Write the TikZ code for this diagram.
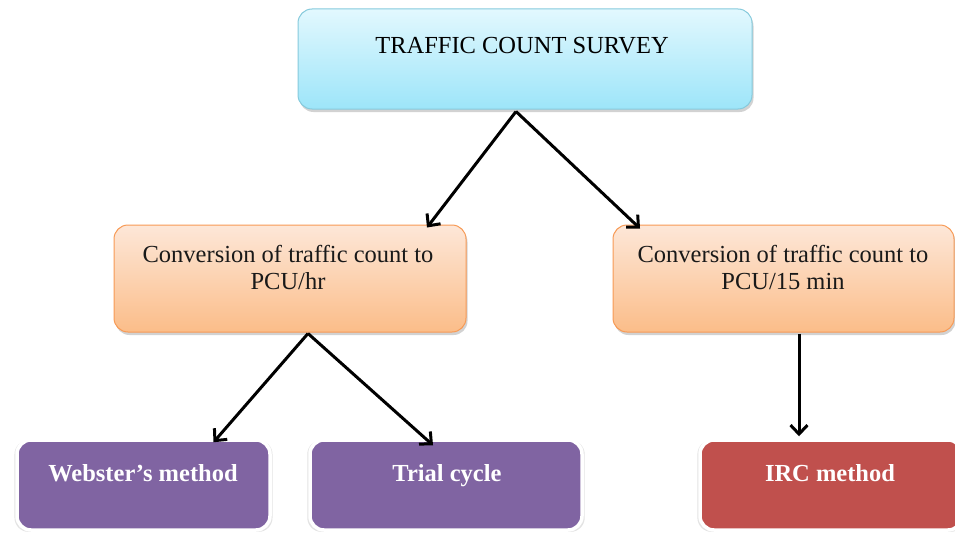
\documentclass[tikz,border=0pt]{standalone}
\usepackage{fontspec}
\setmainfont{Liberation Serif}
\usetikzlibrary{shadows,arrows.meta,calc}
\definecolor{cyantop}{HTML}{E2F8FE}
\definecolor{cyanbot}{HTML}{9DE5F9}
\definecolor{cyanedge}{HTML}{86CADC}
\definecolor{orangetop}{HTML}{FDE7D8}
\definecolor{orangebot}{HTML}{FBBD89}
\definecolor{orangeedge}{HTML}{F79A55}
\definecolor{purplefill}{HTML}{8064A2}
\definecolor{redfill}{HTML}{C0504D}
\begin{document}
\begin{tikzpicture}[x=1pt,y=-1pt,
  box/.style={rectangle, rounded corners=14pt, inner sep=0pt},
  softshadow/.style={drop shadow={shadow xshift=1.5pt, shadow yshift=-3pt, opacity=0.25, fill=black!70}},
  glowshadow/.style={drop shadow={shadow xshift=0pt, shadow yshift=-1pt, shadow scale=1.02, opacity=0.18, fill=black!60}},
  cyanbox/.style={box, draw=cyanedge, line width=1pt, top color=cyantop, bottom color=cyanbot, softshadow},
  orangebox/.style={box, draw=orangeedge, line width=1pt, top color=orangetop, bottom color=orangebot, softshadow},
  purplebox/.style={box, draw=white, line width=3.5pt, fill=purplefill, glowshadow},
  redbox/.style={box, draw=white, line width=3.5pt, fill=redfill, glowshadow},
  toptxt/.style={font=\fontsize{24.5}{28}\selectfont, text=black, anchor=base, inner sep=0pt},
  midtxt/.style={font=\fontsize{24.5}{27}\selectfont, align=center, text=black!90},
  bottxt/.style={font=\fontsize{24.5}{28}\selectfont\bfseries, text=white, anchor=base, inner sep=0pt},
  arr/.style={line width=3pt, -{Straight Barb[length=9pt,width=17pt]}}
]
\useasboundingbox (0,0) rectangle (955,535);

% boxes
\node[cyanbox, minimum width=454pt, minimum height=100pt] (top) at (525,59) {};
\node[orangebox, minimum width=352pt, minimum height=107pt] (ml) at (290,278.5) {};
\node[orangebox, minimum width=341pt, minimum height=107pt] (mr) at (783.5,278.5) {};
\node[purplebox, minimum width=253pt, minimum height=90pt] (web) at (143.5,485) {};
\node[purplebox, minimum width=272pt, minimum height=90pt] (trial) at (446,485) {};
\node[redbox, minimum width=262pt, minimum height=90pt] (irc) at (831,485) {};

% texts
\node[toptxt] (toptext) at (522,53) {TRAFFIC COUNT SURVEY};
\node[midtxt] (mltext) at (288,267) {Conversion of traffic count to\\PCU/hr};
\node[midtxt] (mrtext) at (783,267) {Conversion of traffic count to\\PCU/15 min};
\node[bottxt] (webtext) at (143,481) {Webster’s method};
\node[bottxt] (trialtext) at (447,481) {Trial cycle};
\node[bottxt] (irctext) at (830,481) {IRC method};

% connector points
\coordinate (topout) at ($(top.south)+(-9,2)$);
\coordinate (mlin) at ($(ml.north)+(137,3)$);
\coordinate (mrin) at ($(mr.north)+(-143.5,4)$);
\coordinate (mlout) at ($(ml.south)+(18,1)$);
\coordinate (webin) at ($(web.north)+(70,4)$);
\coordinate (trialin) at ($(trial.north)+(-13,7)$);
\coordinate (mrout) at ($(mr.south)+(15.5,1)$);
\coordinate (ircin) at (mrout |- {$(irc.north)+(0,-2)$});

\draw[arr] (topout) -- (mlin);
\draw[arr] (topout) -- (mrin);
\draw[arr] (mlout) -- (webin);
\draw[arr] (mlout) -- (trialin);
\draw[arr] (mrout) -- (ircin);
\end{tikzpicture}
\end{document}
